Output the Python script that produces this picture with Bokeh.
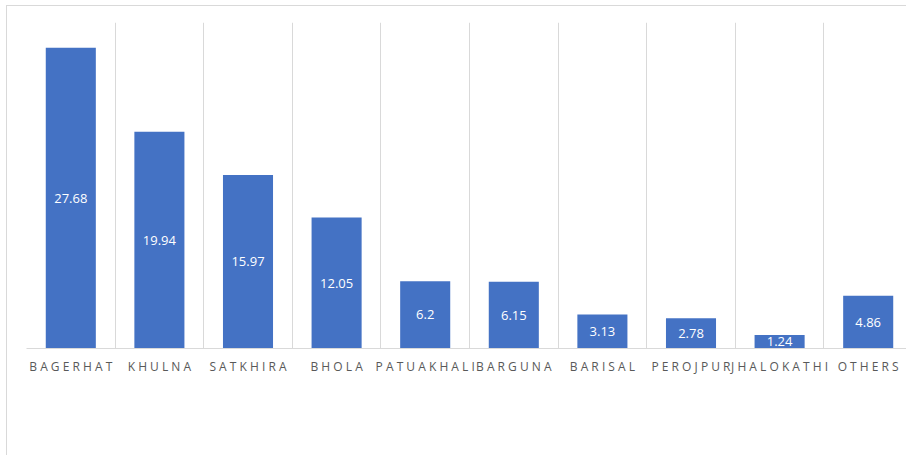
from bokeh.plotting import figure
from bokeh.models import Range1d, FixedTicker, ColumnDataSource
from bokeh.core.properties import value
from bokeh.embed import file_html
from bokeh.resources import INLINE

categories = ["BAGERHAT", "KHULNA", "SATKHIRA", "BHOLA", "PATUAKHALI",
              "BARGUNA", "BARISAL", "PEROJPUR", "JHALOKATHI", "OTHERS"]
values = [27.68, 19.94, 15.97, 12.05, 6.2, 6.15, 3.13, 2.78, 1.24, 4.86]

xs = list(range(len(categories)))
labels = [f"{v:g}" for v in values]

src = ColumnDataSource(dict(x=xs, top=values, mid=[v / 2 for v in values], label=labels))

W, H = 900, 450
LEFT = 19
p = figure(width=W, height=H, output_backend="svg", toolbar_location=None,
           x_range=Range1d(-0.5, -0.5 + (W - LEFT) / 88.6), y_range=Range1d(0, 30),
           min_border_left=LEFT, min_border_right=0, min_border_top=16, min_border_bottom=108,
           styles={"border-top": "1px solid #d9d9d9", "border-left": "1px solid #d9d9d9",
                   "margin-left": "6px", "margin-top": "5px"})
p.outline_line_color = None
p.background_fill_color = "white"
p.border_fill_color = "white"

p.vbar(x="x", top="top", bottom=0, width=0.565, source=src,
       fill_color="#4472C4", line_color=None)
p.text(x="x", y="mid", text="label", source=src, text_align="center",
       text_baseline="middle", text_color="white",
       text_font=value("Open Sans"), text_font_size="13px")

p.yaxis.visible = False
p.ygrid.grid_line_color = None
p.xgrid.ticker = FixedTicker(ticks=[i - 0.5 for i in range(len(categories) + 1)])
p.xgrid.grid_line_color = "#d9d9d9"
p.xgrid.grid_line_width = 1

ax = p.xaxis[0]
ax.ticker = FixedTicker(ticks=xs)
ax.major_label_overrides = {i: " ".join(c) for i, c in zip(xs, categories)}
ax.axis_line_color = "#d9d9d9"
ax.major_tick_line_color = None
ax.minor_tick_line_color = None
ax.major_label_standoff = 3
ax.major_label_text_color = "#595959"
ax.major_label_text_font = "Open Sans"
ax.major_label_text_font_size = "12px"

open("out.html", "w").write(file_html(p, INLINE))
